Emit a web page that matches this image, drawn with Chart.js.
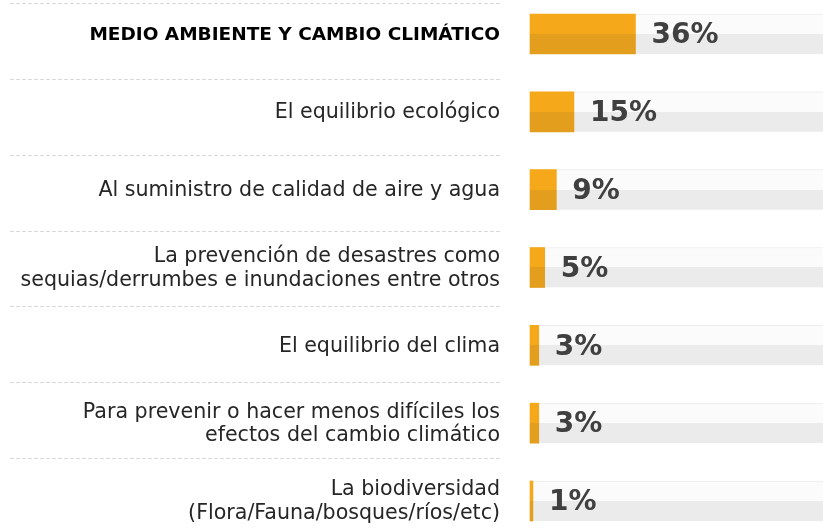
<!DOCTYPE html>
<html>
<head>
<meta charset="utf-8">
<script src="https://cdn.jsdelivr.net/npm/chart.js@4.4.1/dist/chart.umd.min.js"></script>
<style>
  html, body { margin: 0; padding: 0; background: #fff; }
  #wrap { width: 823px; height: 529px; }
</style>
</head>
<body>
<div id="wrap"><canvas id="chart" width="823" height="529"></canvas></div>
<script>
// categorias y valores (%)
const categories = [
    'MEDIO AMBIENTE Y CAMBIO CLIMÁTICO',
    'El equilibrio ecológico',
    'Al suministro de calidad de aire y agua',
    ['La prevención de desastres como', 'sequias/derrumbes e inundaciones entre otros'],
    'El equilibrio del clima',
    ['Para prevenir o hacer menos difíciles los', 'efectos del cambio climático'],
    ['La biodiversidad', '(Flora/Fauna/bosques/ríos/etc)']
];
const values = [36, 15, 9, 5, 3, 3, 1];
const trackValues = [100, 100, 100, 100, 100, 100, 100];

const BAR_H = 40;
const FONT = '"DejaVu Sans", sans-serif';

// degradado de dos tonos (mitad superior clara, mitad inferior oscura)
function twoTone(top, bottom) {
    return (ctx) => {
        const chart = ctx.chart;
        if (!chart.chartArea || ctx.dataIndex === undefined) return bottom;
        const y = chart.scales.y.getPixelForValue(ctx.dataIndex);
        const g = chart.ctx.createLinearGradient(0, y - BAR_H / 2, 0, y + BAR_H / 2);
        g.addColorStop(0, top);
        g.addColorStop(0.5, top);
        g.addColorStop(0.5, bottom);
        g.addColorStop(1, bottom);
        return g;
    };
}

// lineas punteadas separadoras a la izquierda
const separators = {
    id: 'separators',
    beforeDatasetsDraw(chart) {
        const y = chart.scales.y;
        const first = y.getPixelForValue(-0.4);
        const last = y.getPixelForValue(5.45);
        const step = (last - first) / (categories.length - 1);
        const c = chart.ctx;
        c.save();
        c.strokeStyle = '#d9d9d9';
        c.lineWidth = 1;
        c.setLineDash([4, 2]);
        for (let i = 0; i < categories.length; i++) {
            const py = Math.round(first + i * step) + 0.5;
            c.beginPath();
            c.moveTo(10, py);
            c.lineTo(502, py);
            c.stroke();
        }
        c.restore();
    }
};

// etiquetas de valor
const valueLabels = {
    id: 'valueLabels',
    afterDatasetsDraw(chart) {
        const meta = chart.getDatasetMeta(0);
        const c = chart.ctx;
        c.save();
        c.font = 'bold 28px ' + FONT;
        c.fillStyle = '#404040';
        c.textAlign = 'left';
        c.textBaseline = 'middle';
        meta.data.forEach((bar, i) => {
            c.fillText(values[i] + '%', bar.x + 16, bar.y + 2);
        });
        c.restore();
    }
};

new Chart(document.getElementById('chart'), {
    type: 'bar',
    data: {
        labels: categories,
        datasets: [{
            data: values,
            backgroundColor: twoTone('#f6a81b', '#e39e1d'),
            barThickness: BAR_H,
            grouped: false,
            clip: false
        }, {
            data: trackValues,
            backgroundColor: twoTone('#fbfbfb', '#ebebeb'),
            borderColor: '#ececec',
            borderWidth: { top: 1, left: 0, right: 0, bottom: 0 },
            borderSkipped: false,
            barThickness: BAR_H,
            grouped: false,
            clip: false
        }]
    },
    plugins: [separators, valueLabels],
    options: {
        indexAxis: 'y',
        responsive: false,
        animation: false,
        layout: { padding: { top: 34, bottom: 28, left: 0, right: 0 } },
        scales: {
            x: { display: false, min: 0, max: 100 },
            y: {
                offset: false,
                afterFit: (scale) => {
                    scale.width = 530;
                    scale.paddingTop = 0;
                    scale.paddingBottom = 0;
                },
                border: { display: false },
                grid: { display: false, drawTicks: false },
                ticks: {
                    padding: 30,
                    labelOffset: 1,
                    color: (ctx) => ctx.index === 0 ? '#000000' : '#262626',
                    font: (ctx) => ctx.index === 0
                        ? { family: FONT, size: 18.5, weight: 'bold', lineHeight: 1.2 }
                        : { family: FONT, size: 20.6, lineHeight: 1.16 }
                }
            }
        },
        plugins: {
            legend: { display: false },
            tooltip: { enabled: false }
        }
    }
});
</script>
</body>
</html>
